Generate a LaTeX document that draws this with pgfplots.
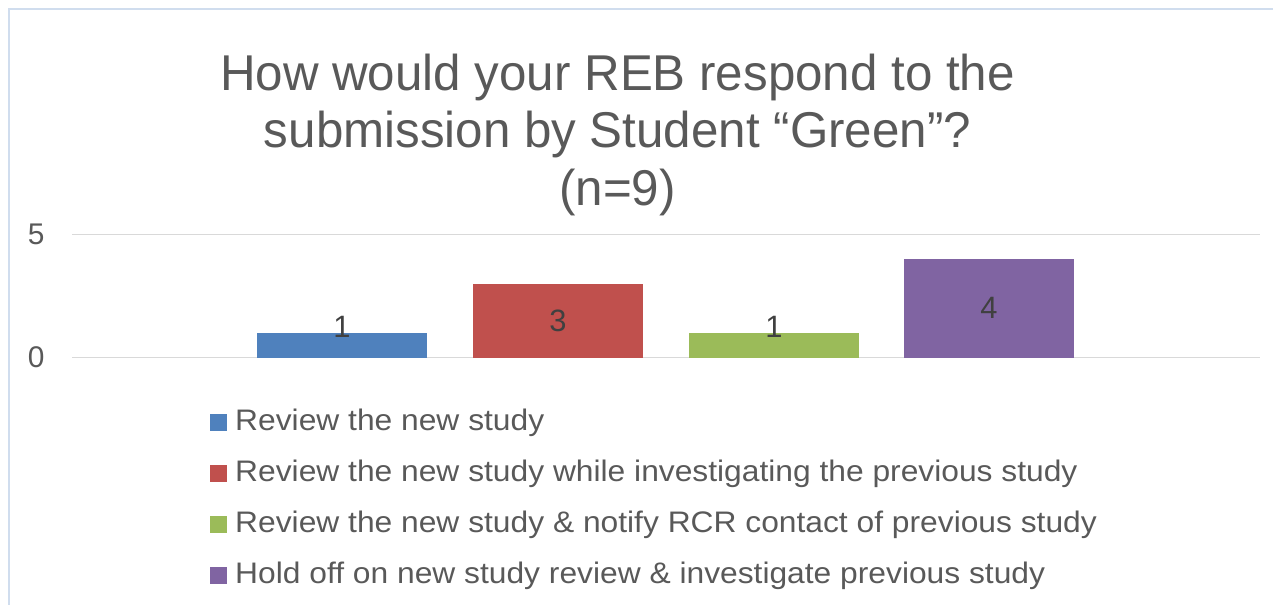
\documentclass[border=0pt]{standalone}
\usepackage{pgfplots}
\pgfplotsset{compat=1.18}
\usepackage{fontspec}
\setmainfont{Liberation Sans}
\newfontfamily\titlefont[FakeStretch=0.98]{Liberation Sans}
\newfontfamily\legfont[FakeStretch=1.07]{Liberation Sans}
\definecolor{cblue}{HTML}{4F81BD}
\definecolor{cred}{HTML}{C0504D}
\definecolor{cgreen}{HTML}{9BBB59}
\definecolor{cpurple}{HTML}{8064A2}
\definecolor{textgray}{HTML}{595959}
\definecolor{labgray}{HTML}{404040}
\definecolor{gridgray}{HTML}{D9D9D9}
\definecolor{bordercol}{HTML}{D0DDEE}
\begin{document}
\begin{tikzpicture}
\useasboundingbox (0bp,0bp) rectangle (1273bp,-605bp);
\draw[bordercol, line width=1.5bp] (9bp,-606bp) -- (9bp,-9bp) -- (1274bp,-9bp);
\node[anchor=base, text=textgray, font=\titlefont\fontsize{50.5}{57}\selectfont, inner sep=0] at (617.5bp,-90.7bp) {How would your REB respond to the};
\node[anchor=base, text=textgray, font=\titlefont\fontsize{50.5}{57}\selectfont, inner sep=0] at (617.5bp,-147.3bp) {submission by Student “Green”?};
\node[anchor=base, text=textgray, font=\titlefont\fontsize{50.5}{57}\selectfont, inner sep=0] at (617.5bp,-205bp) {(n=9)};
\begin{axis}[
  at={(72bp,-357.5bp)}, anchor=south west,
  scale only axis, width=1188bp, height=123bp,
  xmin=72, xmax=1260, ymin=0, ymax=5,
  axis line style={draw=none},
  major tick length=0pt,
  xtick=\empty, ytick={0,5},
  ymajorgrids, grid style={draw=gridgray, line width=1.5bp},
  /pgf/number format/assume math mode=true,
  yticklabel style={font=\fontsize{30}{36}\selectfont, text=textgray, anchor=east, xshift=-24bp},
  ybar, bar width=170bp,
  legend style={at={(axis description cs:0.1162,-0.416)}, anchor=north west,
    draw=none, fill=none, inner sep=0pt, row sep=22.8bp, column sep=8bp,
    font=\legfont\fontsize{29.8}{34}\selectfont, text=textgray,
    nodes={inner xsep=0pt, inner ysep=0pt, text height=22bp, text depth=6bp}},
  legend cell align=left,
  legend image code/.code={\path[#1, draw=none] (0bp,-8.5bp) rectangle (17bp,8.5bp);},
  nodes near coords,
  every node near coord/.append style={font=\fontsize{31}{36}\selectfont, text=labgray, anchor=center},
]
\addplot[fill=cblue, draw=none, bar shift=0pt, every node near coord/.append style={yshift=6bp}] coordinates {(342,1)};
\addlegendentry{Review the new study}
\addplot[fill=cred, draw=none, bar shift=0pt, every node near coord/.append style={yshift=-36.9bp}] coordinates {(558,3)};
\addlegendentry{Review the new study while investigating the previous study}
\addplot[fill=cgreen, draw=none, bar shift=0pt, every node near coord/.append style={yshift=6bp}] coordinates {(774,1)};
\addlegendentry{Review the new study \& notify RCR contact of previous study}
\addplot[fill=cpurple, draw=none, bar shift=0pt, every node near coord/.append style={yshift=-49.2bp}] coordinates {(989,4)};
\addlegendentry{Hold off on new study review \& investigate previous study}
\end{axis}
\end{tikzpicture}
\end{document}
